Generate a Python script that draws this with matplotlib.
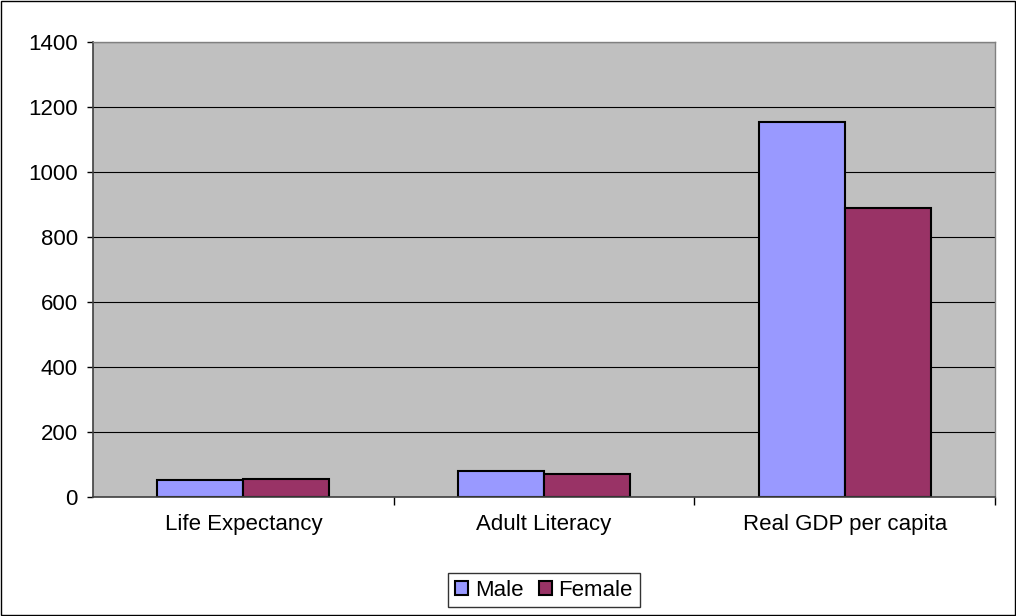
import numpy as np
import matplotlib
matplotlib.use("Agg")
import matplotlib.pyplot as plt
from matplotlib.patches import Rectangle

categories = ["Life Expectancy", "Adult Literacy", "Real GDP per capita"]
male = [52, 79, 1155]
female = [55, 70, 890]
y_ticks = [0, 200, 400, 600, 800, 1000, 1200, 1400]

plt.rcParams["font.family"] = ["Liberation Sans", "DejaVu Sans"]
fs = 16

fig = plt.figure(figsize=(10.16, 6.16), dpi=100)
ax = fig.add_axes([93 / 1016, 1 - 497 / 616, 902 / 1016, 455 / 616])
ax.set_facecolor("#C0C0C0")

x = np.arange(len(categories))
w = 2 / 7
ax.bar(x - w / 2, male, w, color="#9999FF", edgecolor="black", linewidth=1.5, label="Male", zorder=3)
ax.bar(x + w / 2, female, w, color="#993366", edgecolor="black", linewidth=1.5, label="Female", zorder=3)

ax.set_xlim(-0.5, 2.5)
ax.set_ylim(0, 1400)
ax.set_yticks(y_ticks)
ax.set_yticklabels([str(v) for v in y_ticks], fontsize=fs)
ax.set_xticks(x)
ax.set_xticklabels(categories, fontsize=fs)
ax.tick_params(axis="x", length=0, pad=12)
ax.set_xticks([0.5, 1.5, 2.5], minor=True)
ax.tick_params(axis="x", which="minor", length=6, width=1, direction="out")
ax.tick_params(axis="y", length=4.5, width=1, direction="out", pad=6.5)
ax.yaxis.grid(True, color="black", linewidth=0.8, zorder=1)
ax.set_axisbelow(True)

for s in ["top", "right"]:
    ax.spines[s].set_color("#808080")
    ax.spines[s].set_linewidth(1)
for s in ["left", "bottom"]:
    ax.spines[s].set_color("#404040")
    ax.spines[s].set_linewidth(1.2)
ax.spines["bottom"].set_zorder(4)

leg = fig.legend(loc="center", bbox_to_anchor=(544 / 1016, 1 - 590 / 616), ncol=2,
                 fontsize=fs, frameon=True, fancybox=False, edgecolor="black",
                 handlelength=0.6, handleheight=0.6, handletextpad=0.3,
                 columnspacing=0.68, borderpad=0.3, borderaxespad=0)
leg.get_frame().set_linewidth(1)

fig.patches.append(Rectangle((0.001, 0.001), 0.998, 0.997, transform=fig.transFigure,
                             fill=False, edgecolor="black", linewidth=1))

fig.savefig("out.png", dpi=100, facecolor="white")
